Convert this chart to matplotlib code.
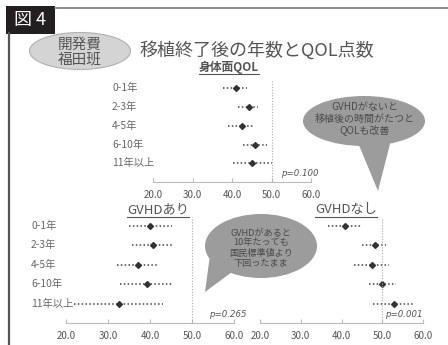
import matplotlib
matplotlib.use("Agg")
import matplotlib.pyplot as plt
from matplotlib.patches import Ellipse, Polygon, Rectangle
from matplotlib.transforms import blended_transform_factory

plt.rcParams['font.family'] = ['Noto Sans CJK JP', 'DejaVu Sans']

W, H = 448, 345

groups = ['0-1年', '2-3年', '4-5年', '6-10年', '11年以上']

# 身体面QOL (all patients)
phys_mean = [41.0, 44.3, 42.5, 45.8, 45.0]
phys_low = [37.7, 41.5, 39.0, 42.8, 40.3]
phys_high = [43.8, 46.6, 45.3, 48.9, 50.0]

# GVHDあり
gvhd_yes_mean = [40.0, 40.7, 37.2, 39.2, 32.5]
gvhd_yes_low = [35.0, 35.7, 32.2, 32.9, 21.9]
gvhd_yes_high = [45.2, 45.5, 42.2, 45.4, 43.1]

# GVHDなし
gvhd_no_mean = [40.8, 48.2, 47.5, 49.9, 52.8]
gvhd_no_low = [36.7, 45.0, 43.0, 46.7, 47.7]
gvhd_no_high = [44.8, 50.9, 51.6, 53.3, 57.7]

xticks = [20, 30, 40, 50, 60]
xticklabels = ['20.0', '30.0', '40.0', '50.0', '60.0']
norm_value = 50

TXT = '#555555'


def px_axes(fig, x0, y0, x1, y1):
    return fig.add_axes([x0 / W, 1 - y1 / H, (x1 - x0) / W, (y1 - y0) / H])


def forest(ax, mean, low, high, pval, p_x, labels_x=None):
    rows = list(range(len(groups)))
    ax.hlines(rows, low, high, colors='#444444', linestyles=(0, (1, 1.5)), linewidth=1.1)
    ax.plot(mean, rows, 'D', color='#333333', markersize=3.0, linestyle='none')
    ax.axvline(norm_value, color='#aaaaaa', linestyle=(0, (1, 1.5)), linewidth=0.8)
    ax.set_xlim(20, 60)
    ax.set_ylim(5, -0.45)
    ax.set_xticks(xticks)
    ax.set_xticklabels(xticklabels)
    ax.set_yticks([])
    for s in ['top', 'left', 'right']:
        ax.spines[s].set_visible(False)
    ax.spines['bottom'].set_color('#bbbbbb')
    ax.spines['bottom'].set_linewidth(0.8)
    ax.tick_params(axis='x', direction='in', length=3, color='#bbbbbb',
                   labelsize=7, labelcolor=TXT, pad=6)
    ax.patch.set_alpha(0)
    if labels_x is not None:
        tr = blended_transform_factory(ax.transAxes, ax.transData)
        for r, g in zip(rows, groups):
            ax.text(labels_x, r, g, transform=tr, ha='left', va='center',
                    fontsize=7.4, color='#666666')
    ax.text(p_x, 4.55, 'p=' + pval, transform=blended_transform_factory(ax.transAxes, ax.transData),
            ha='right', va='center', fontsize=6.2, color=TXT,
            family='DejaVu Sans', style='italic')


fig = plt.figure(figsize=(W / 100, H / 100), dpi=100)

ax_top = px_axes(fig, 153, 80, 311, 182)
forest(ax_top, phys_mean, phys_low, phys_high, '0.100', 1.045, labels_x=(112 - 153) / (311 - 153))

ax_bl = px_axes(fig, 66, 217, 234, 323)
forest(ax_bl, gvhd_yes_mean, gvhd_yes_low, gvhd_yes_high, '0.265', 1.075, labels_x=(31 - 66) / (234 - 66))

ax_br = px_axes(fig, 260, 217, 423, 323)
forest(ax_br, gvhd_no_mean, gvhd_no_low, gvhd_no_high, '0.001', 1.0)

# overlay for frame, titles and speech bubbles (pixel coordinates)
ov = fig.add_axes([0, 0, 1, 1], zorder=5)
ov.set_xlim(0, W)
ov.set_ylim(H, 0)
ov.axis('off')
ov.patch.set_alpha(0)

ov.plot([55, W], [7.5, 7.5], color='#777777', linewidth=1.2)
ov.plot([9, 9], [33, H], color='#555555', linewidth=1.6)
ov.add_patch(Rectangle((6, 6), 49, 28, facecolor='#231f20', edgecolor='none'))
ov.text(30.5, 20.5, '図 4', color='white', fontsize=13, ha='center', va='center')

ov.add_patch(Ellipse((80, 51), 101, 37, facecolor='#d4d4d4', edgecolor='#b0b0b0', linewidth=0.8))
ov.text(80, 52, '開発費\n福田班', ha='center', va='center', fontsize=10.5,
        color=TXT, linespacing=1.05)

ov.text(257, 50, '移植終了後の年数とQOL点数', ha='center', va='center',
        fontsize=13, color=TXT)

titles = [
    ov.text(229, 67, '身体面QOL', ha='center', va='center', fontsize=8.5,
            fontweight='bold', color=TXT),
    ov.text(158, 210, 'GVHDあり', ha='center', va='center', fontsize=9.5, color=TXT),
    ov.text(346, 210, 'GVHDなし', ha='center', va='center', fontsize=9.5, color=TXT),
]

bubble = '#9c9c9c'
ov.add_patch(Ellipse((364, 121), 122, 50, facecolor=bubble, edgecolor='none'))
ov.add_patch(Polygon([(356, 138), (392, 136), (378, 191)], closed=True,
                     facecolor=bubble, edgecolor='none'))
ov.text(365, 119, 'GVHDがないと\n移植後の時間がたつと\nQOLも改善', ha='center', va='center',
        fontsize=7.2, color='#4a4a4a', linespacing=1.25)

ov.add_patch(Ellipse((261, 246), 112, 64, facecolor=bubble, edgecolor='none'))
ov.add_patch(Polygon([(210, 255), (232, 272), (205, 292)], closed=True,
                     facecolor=bubble, edgecolor='none'))
ov.text(261, 248, 'GVHDがあると\n10年たっても\n国民標準値より\n下回ったまま', ha='center', va='center',
        fontsize=6.6, color='#4a4a4a', linespacing=1.15)

# underline the panel titles
fig.canvas.draw()
inv = ov.transData.inverted()
for t in titles:
    bb = t.get_window_extent()
    (x0, y0), (x1, y1) = inv.transform([(bb.x0, bb.y0), (bb.x1, bb.y1)])
    ov.plot([x0, x1], [y0 + 0.5, y0 + 0.5], color=TXT, linewidth=0.8)

fig.savefig('out.png', dpi=100)
